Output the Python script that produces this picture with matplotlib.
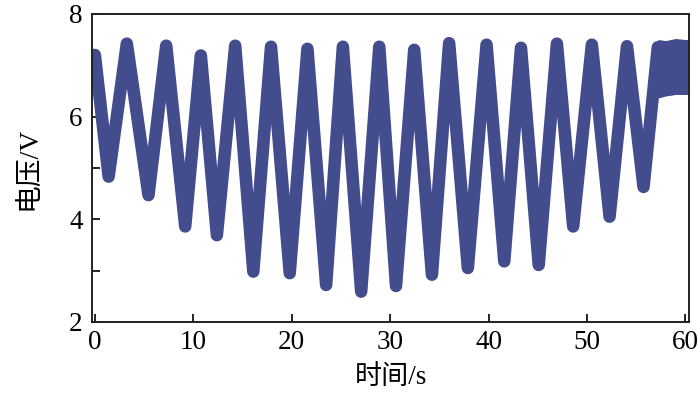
import matplotlib
matplotlib.use("Agg")
import matplotlib.pyplot as plt

# peak / trough centres of the voltage band
t_pts = [0.0, 1.4, 3.25, 5.45, 7.25, 9.18, 10.77, 12.4, 14.26, 16.1, 17.9,
         19.8, 21.6, 23.5, 25.2, 27.06, 28.9, 30.6, 32.45, 34.25, 36.0, 37.9,
         39.8, 41.6, 43.3, 45.1, 46.95, 48.6, 50.5, 52.3, 54.07, 55.75, 57.2]
v_pts = [7.2, 4.83, 7.42, 4.47, 7.38, 3.86, 7.19, 3.69, 7.38, 2.98, 7.36,
         2.95, 7.32, 2.72, 7.36, 2.59, 7.36, 2.70, 7.30, 2.92, 7.43, 3.05,
         7.40, 3.18, 7.34, 3.11, 7.42, 3.86, 7.40, 4.05, 7.37, 4.63, 7.35]

# noisy flat tail at the end
t_tail = [57.2, 58.0, 59.0, 60.0, 60.5]
v_tail_hi = [7.50, 7.48, 7.52, 7.50, 7.50]
v_tail_lo = [6.36, 6.40, 6.43, 6.43, 6.43]

x_ticks = [0, 10, 20, 30, 40, 50, 60]
y_ticks = [2, 4, 6, 8]

color = "#434c8c"
serif = ["Liberation Serif", "Noto Sans CJK SC"]

fig = plt.figure(figsize=(7, 3.96), dpi=100)
ax = fig.add_axes([0.132, 0.187, 0.852, 0.778])

ax.plot(t_pts, v_pts, color=color, lw=9,
        solid_joinstyle="round", solid_capstyle="round")
ax.fill_between(t_tail, v_tail_lo, v_tail_hi, color=color, lw=0)

ax.set_xlim(-0.25, 60.35)
ax.set_ylim(2, 8)
ax.set_xticks(x_ticks)
ax.set_yticks(y_ticks)
ax.set_yticks([3, 5, 7], minor=True)
ax.set_xticklabels([str(v) for v in x_ticks], family=serif, fontsize=19.5)
ax.set_yticklabels([str(v) for v in y_ticks], family=serif, fontsize=19.5)
ax.tick_params(which="both", direction="in", length=5.5, width=1.2,
               top=False, right=False)
ax.tick_params(axis="y", pad=7)
ax.tick_params(axis="x", pad=6)
for s in ax.spines.values():
    s.set_linewidth(1.4)
    s.set_color("#222222")

ax.set_xlabel("时间/s", family=serif, fontsize=19.5, labelpad=7)
ax.set_ylabel("电压/V", family=serif, fontsize=20, labelpad=20)

fig.savefig("out.png", dpi=100)
